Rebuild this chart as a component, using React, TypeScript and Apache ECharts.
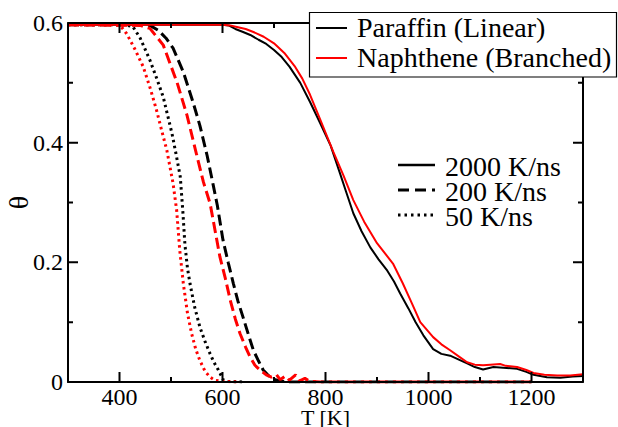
import React, { useEffect, useRef } from 'react';
import * as echarts from 'echarts';

const FONT = "'Liberation Serif', 'DejaVu Serif', serif";

// θ vs T [K]
const paraffin2000: [number, number][] = [
  [300, 0.597], [450, 0.597], [600, 0.597], [612, 0.596], [625, 0.590], [640, 0.585], [654, 0.580],
  [670, 0.572], [685, 0.565], [700, 0.555], [715, 0.543], [730, 0.527], [751, 0.500], [770, 0.468],
  [790, 0.432], [810, 0.395], [828, 0.349], [840, 0.318], [854, 0.282], [870, 0.252], [887, 0.225],
  [903, 0.205], [920, 0.186], [933, 0.168], [945, 0.148], [961, 0.123], [975, 0.100], [990, 0.078],
  [1009, 0.055], [1025, 0.047], [1042, 0.044], [1060, 0.037], [1075, 0.031], [1090, 0.025],
  [1106, 0.021], [1126, 0.025], [1145, 0.024], [1172, 0.022], [1190, 0.017], [1204, 0.012],
  [1230, 0.008], [1256, 0.007], [1280, 0.009], [1300, 0.010],
];
const naphthene2000: [number, number][] = [
  [300, 0.597], [450, 0.597], [600, 0.597], [615, 0.596], [630, 0.593], [645, 0.590], [660, 0.585],
  [680, 0.577], [700, 0.566], [720, 0.550], [740, 0.528], [755, 0.507], [770, 0.480], [790, 0.438],
  [815, 0.385], [835, 0.345], [854, 0.304], [875, 0.268], [900, 0.232], [931, 0.198], [950, 0.165],
  [968, 0.131], [984, 0.100], [1009, 0.075], [1025, 0.063], [1042, 0.053], [1060, 0.042],
  [1075, 0.033], [1090, 0.029], [1106, 0.028], [1120, 0.029], [1139, 0.030], [1150, 0.027],
  [1172, 0.025], [1190, 0.020], [1204, 0.015], [1225, 0.012], [1250, 0.011], [1275, 0.011],
  [1300, 0.013],
];
const paraffin200: [number, number][] = [
  [300, 0.597], [440, 0.597], [459, 0.596], [475, 0.588], [490, 0.575], [504, 0.558], [524, 0.518],
  [543, 0.467], [556, 0.429], [570, 0.379], [582, 0.329], [590, 0.295], [601, 0.237], [611, 0.200],
  [621, 0.165], [630, 0.135], [640, 0.108], [650, 0.080], [660, 0.053], [670, 0.035], [679, 0.020],
  [690, 0.010], [698, 0.005], [710, 0.002], [730, 0], [1200, 0],
];
const naphthene200: [number, number][] = [
  [300, 0.597], [440, 0.596], [459, 0.591], [485, 0.563], [512, 0.500], [531, 0.446], [550, 0.379],
  [563, 0.334], [576, 0.298], [595, 0.209], [605, 0.175], [615, 0.137], [625, 0.105], [634, 0.081],
  [645, 0.058], [654, 0.041], [663, 0.028], [673, 0.020], [685, 0.012], [695, 0.008], [705, 0.012],
  [712, 0.004], [722, 0.010], [730, 0.003], [742, 0.012], [750, 0.002], [760, 0.006], [770, 0.001],
  [790, 0], [1200, 0],
];
const paraffin50: [number, number][] = [
  [300, 0.597], [410, 0.597], [426, 0.594], [440, 0.575], [459, 0.538], [472, 0.508], [485, 0.476],
  [502, 0.415], [510, 0.380], [518, 0.343], [523, 0.285], [527, 0.230], [532, 0.190], [537, 0.164],
  [546, 0.125], [556, 0.092], [566, 0.068], [576, 0.047], [584, 0.032], [592, 0.020], [602, 0.003],
  [610, 0.001], [640, 0],
];
const naphthene50: [number, number][] = [
  [300, 0.597], [395, 0.597], [405, 0.592], [414, 0.582], [430, 0.556], [446, 0.527], [460, 0.490],
  [472, 0.454], [482, 0.420], [492, 0.387], [504, 0.332], [511, 0.287], [517, 0.220], [524, 0.164],
  [532, 0.115], [540, 0.081], [548, 0.055], [556, 0.036], [566, 0.018], [576, 0.008], [585, 0.003],
  [600, 0.001], [630, 0],
];

const xMajorTicks = [400, 600, 800, 1000, 1200];
const xMinorTicks = [500, 700, 900, 1100];
const yMajorTicks = [0.2, 0.4];
const yMinorTicks = [0.1, 0.3, 0.5];
const materialLegend = ['Paraffin (Linear)', 'Naphthene (Branched)'];
const rateLegend = ['2000 K/ns', '200 K/ns', '50 K/ns'];

const X_MIN = 300;
const X_MAX = 1300;
const Y_MIN = 0;
const Y_MAX = 0.6;

const DASHED = [11, 5];
const DOTTED = [2.5, 3.5];

// layout (px)
const W = 618;
const H = 427;
const G_LEFT = 68;
const G_RIGHT = 35;
const G_TOP = 23;
const G_BOTTOM = 45;

export default function App() {
  const ref = useRef<HTMLDivElement>(null);
  useEffect(() => {
    const chart = echarts.init(ref.current!, null, { renderer: 'svg' });
    const plotW = W - G_LEFT - G_RIGHT;
    const plotH = H - G_TOP - G_BOTTOM;
    const dx = (px: number) => (px / plotW) * (X_MAX - X_MIN);
    const dy = (px: number) => (px / plotH) * (Y_MAX - Y_MIN);
    const gap = ['-', '-'];
    const tickSegs: any[] = [];
    const addX = (v: number, len: number) => {
      tickSegs.push([v, Y_MIN], [v, Y_MIN + dy(len)], gap, [v, Y_MAX], [v, Y_MAX - dy(len)], gap);
    };
    const addY = (v: number, len: number) => {
      tickSegs.push([X_MIN, v], [X_MIN + dx(len), v], gap, [X_MAX, v], [X_MAX - dx(len), v], gap);
    };
    xMajorTicks.forEach((v) => addX(v, 10));
    xMinorTicks.forEach((v) => addX(v, 5));
    yMajorTicks.forEach((v) => addY(v, 10));
    yMinorTicks.forEach((v) => addY(v, 5));
    const frame = [[X_MIN, Y_MIN], [X_MIN, Y_MAX], [X_MAX, Y_MAX], [X_MAX, Y_MIN], [X_MIN, Y_MIN]];

    const mk = (name: string, data: [number, number][], color: string, type: any, width: number) => ({
      type: 'line',
      name,
      data,
      symbol: 'none',
      lineStyle: { color, type, width },
    });
    const txt = (x: number, y: number, text: string) => ({
      type: 'text', x, y,
      style: { text, fill: '#000', fontFamily: FONT, fontSize: 28, verticalAlign: 'middle', align: 'left' },
    });
    const legendChildren: any[] = [
      { type: 'rect', shape: { x: 309.5, y: 12.5, width: 307, height: 64.5 }, style: { fill: '#fff', stroke: '#000', lineWidth: 1.2 } },
      { type: 'line', shape: { x1: 316, y1: 28, x2: 347, y2: 28 }, style: { stroke: '#000', lineWidth: 2 } },
      txt(357, 27, materialLegend[0]),
      { type: 'line', shape: { x1: 316, y1: 58, x2: 347, y2: 58 }, style: { stroke: '#ff0000', lineWidth: 2 } },
      txt(357, 57, materialLegend[1]),
      { type: 'line', shape: { x1: 398, y1: 165, x2: 435, y2: 165 }, style: { stroke: '#000', lineWidth: 2.5 } },
      txt(445, 166, rateLegend[0]),
      { type: 'line', shape: { x1: 398, y1: 190, x2: 435, y2: 190 }, style: { stroke: '#000', lineWidth: 3, lineDash: [11, 6] } },
      txt(445, 191, rateLegend[1]),
      { type: 'line', shape: { x1: 398, y1: 215, x2: 435, y2: 215 }, style: { stroke: '#000', lineWidth: 3, lineDash: [2.5, 4] } },
      txt(445, 216, rateLegend[2]),
    ];
    chart.setOption({
      animation: false,
      backgroundColor: '#fff',
      grid: {
        left: G_LEFT, right: G_RIGHT, top: G_TOP, bottom: G_BOTTOM,
        outerBoundsMode: 'none',
      },
      xAxis: {
        type: 'value',
        min: X_MIN,
        max: X_MAX,
        interval: 100,
        splitLine: { show: false },
        axisLine: { show: true, onZero: false, lineStyle: { color: '#000', width: 2 } },
        axisTick: { show: false },
        axisLabel: {
          show: true, color: '#000', fontFamily: FONT, fontSize: 24, margin: 3,
          formatter: (v: number) => (xMajorTicks.indexOf(v) >= 0 ? String(v) : ''),
        },
        name: 'T [K]', nameLocation: 'middle', nameGap: 24, nameMoveOverlap: false,
        nameTextStyle: { color: '#000', fontFamily: FONT, fontSize: 22 },
      },
      yAxis: {
        type: 'value',
        min: Y_MIN,
        max: Y_MAX,
        interval: 0.2,
        splitLine: { show: false },
        axisLine: { show: true, onZero: false, lineStyle: { color: '#000', width: 2 } },
        axisTick: { show: false },
        axisLabel: {
          show: true, color: '#000', fontFamily: FONT, fontSize: 24, margin: 5,
          formatter: (v: number) => (v === 0 ? '0' : v.toFixed(1)),
        },
        name: 'θ', nameLocation: 'middle', nameGap: 36, nameMoveOverlap: false,
        nameTextStyle: { color: '#000', fontFamily: FONT, fontSize: 28 },
      },
      series: [
        mk('Paraffin 2000', paraffin2000, '#000', 'solid', 2),
        mk('Paraffin 200', paraffin200, '#000', DASHED, 3),
        mk('Paraffin 50', paraffin50, '#000', DOTTED, 3),
        mk('Naphthene 2000', naphthene2000, '#ff0000', 'solid', 2),
        mk('Naphthene 200', naphthene200, '#ff0000', DASHED, 3),
        mk('Naphthene 50', naphthene50, '#ff0000', DOTTED, 3),
        {
          type: 'line', name: 'frame', data: frame, symbol: 'none', clip: false,
          lineStyle: { color: '#000', width: 2 }, z: 5,
        },
        {
          type: 'line', name: 'ticks', data: tickSegs, symbol: 'none', clip: false,
          connectNulls: false, lineStyle: { color: '#000', width: 2 }, z: 5,
        },
        {
          type: 'custom',
          name: 'legend',
          coordinateSystem: 'none',
          silent: true,
          z: 20,
          data: [0],
          renderItem: () => ({ type: 'group', children: legendChildren }),
        },
      ],
    });
    return () => chart.dispose();
  }, []);
  return <div ref={ref} style={{ position: 'absolute', left: 0, top: 0, width: W, height: H }} />;
}
